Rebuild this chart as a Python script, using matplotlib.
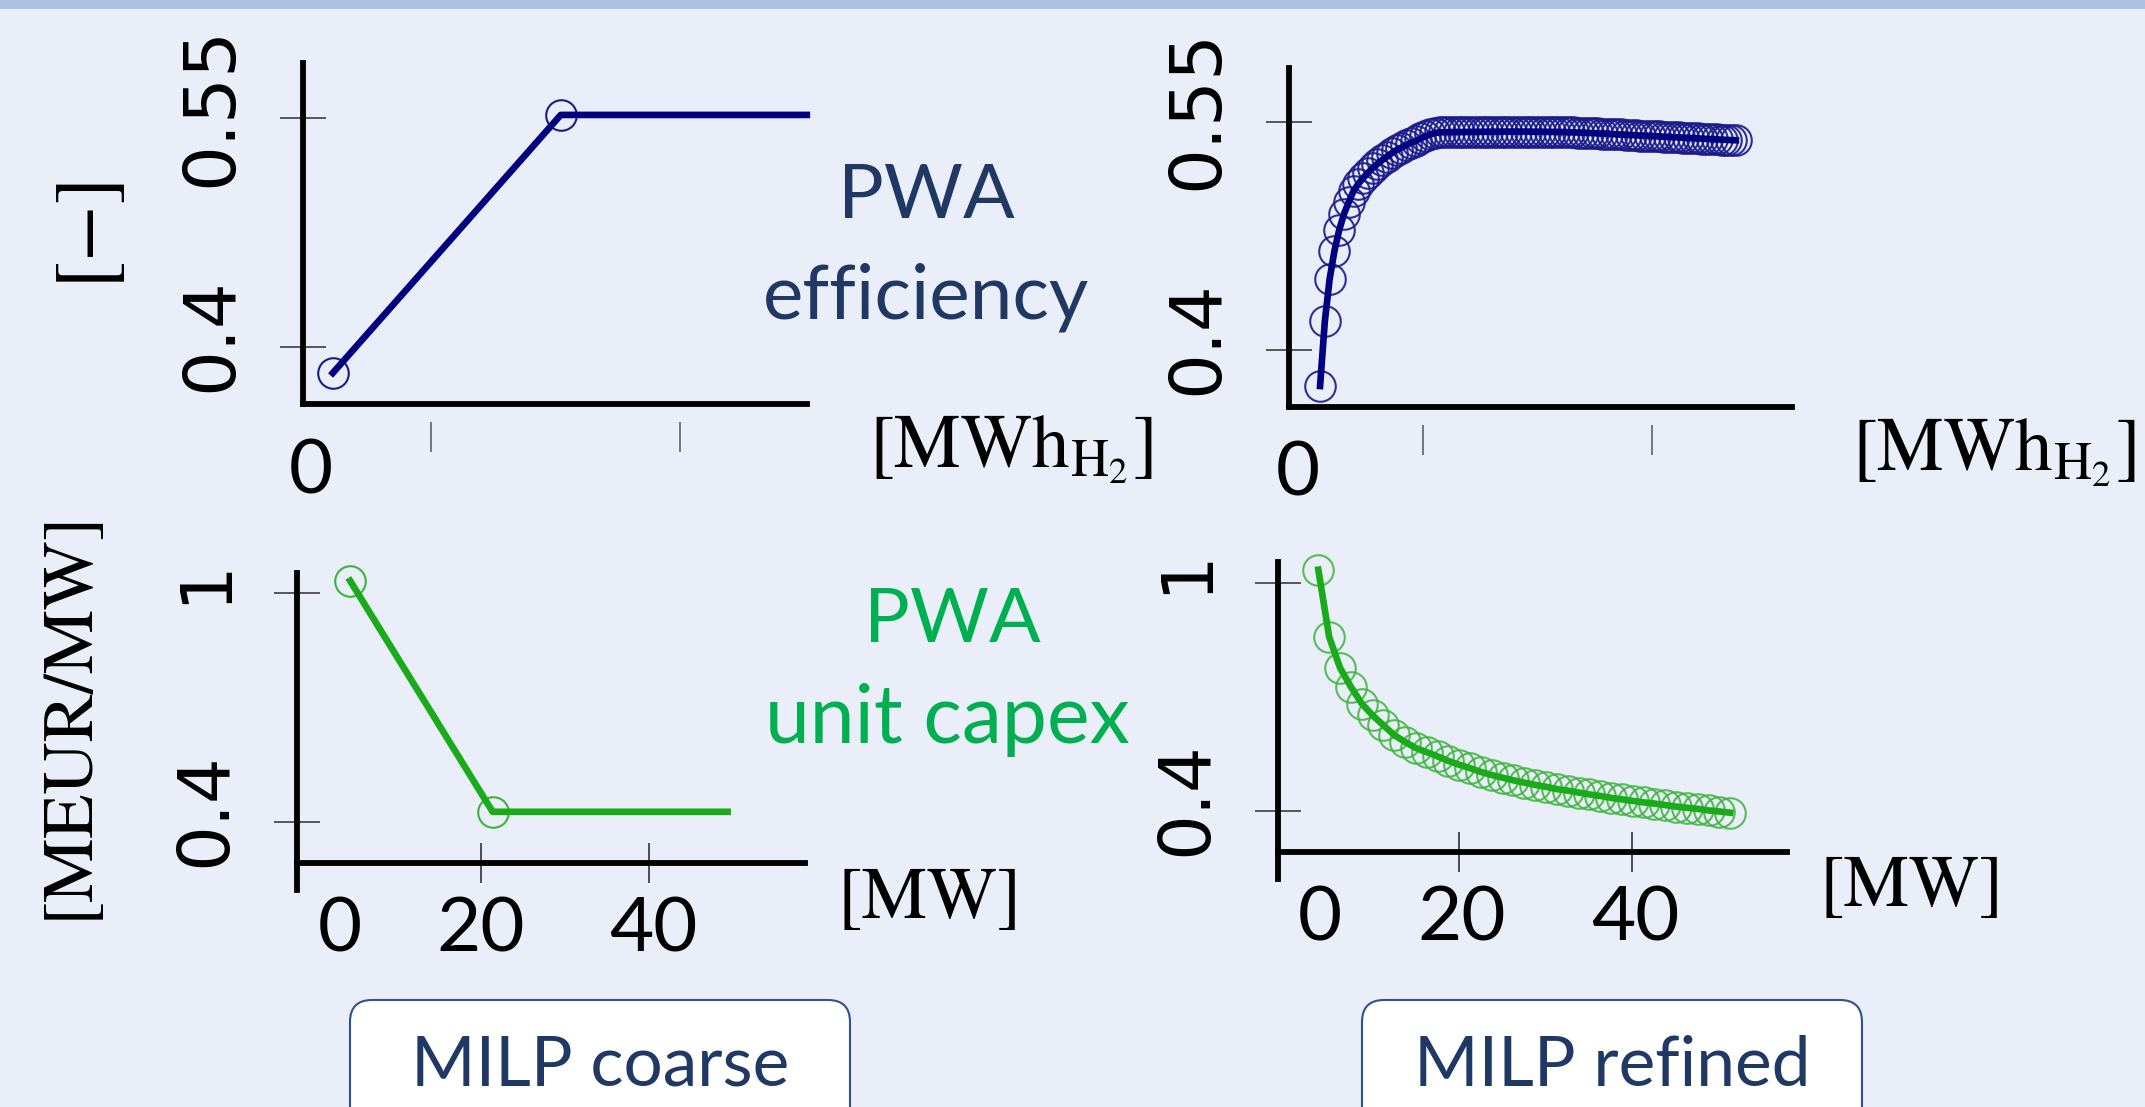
import matplotlib
matplotlib.use("Agg")
import matplotlib.pyplot as plt
from matplotlib.patches import FancyBboxPatch, Rectangle
from matplotlib.transforms import IdentityTransform, offset_copy

W, H = 2145, 1107
BG = '#e9eef8'
NAVY = '#000080'
NAVY_MK = '#1a1a8a'
GREEN = '#1aab1a'
GREEN_MK = '#3cb43c'
TEXT_BLUE = '#203864'
TEXT_GREEN = '#00b050'

# --- data -------------------------------------------------------------
# coarse PWA efficiency, x in MWh_H2 (last point only extends the flat part)
coarse_eff_x = [1.7, 11.8, 22.7]
coarse_eff_y = [0.383, 0.552, 0.552]

# refined PWA efficiency
refined_eff_x = [
    1.45, 1.75, 2.05, 2.35, 2.65, 2.95, 3.25, 3.55, 3.85, 4.15,
    4.45, 4.75, 5.05, 5.35, 5.65, 5.95, 6.25, 6.55, 6.85, 7.15,
    7.45, 7.75, 8.05, 8.35, 8.65, 8.95, 9.25, 9.55, 9.85, 10.15,
    10.45, 10.75, 11.05, 11.35, 11.65, 11.95, 12.25, 12.55, 12.85, 13.15,
    13.45, 13.75, 14.05, 14.35, 14.65, 14.95, 15.25, 15.55, 15.85, 16.15,
    16.45, 16.75, 17.05, 17.35, 17.65, 17.95, 18.25, 18.55, 18.85, 19.15,
    19.45, 19.75, 20.05, 20.35, 20.65, 20.95, 21.25, 21.55, 21.85, 22.15,
    22.45, 22.75, 23.05, 23.35, 23.65, 23.95, 24.25, 24.55, 24.85, 25.15,
    25.45, 25.75, 26.05, 26.35, 26.65, 26.95, 27.25, 27.55,
]
refined_eff_y = [
    0.3763, 0.4190, 0.4466, 0.4650, 0.4788, 0.4893, 0.4972, 0.5045, 0.5091, 0.5130,
    0.5163, 0.5196, 0.5222, 0.5248, 0.5271, 0.5294, 0.5314, 0.5330, 0.5345, 0.5360,
    0.5374, 0.5390, 0.5403, 0.5416, 0.5426, 0.5430, 0.5431, 0.5431, 0.5432, 0.5432,
    0.5432, 0.5433, 0.5433, 0.5433, 0.5434, 0.5434, 0.5434, 0.5434, 0.5435, 0.5435,
    0.5435, 0.5435, 0.5435, 0.5435, 0.5435, 0.5434, 0.5434, 0.5434, 0.5433, 0.5433,
    0.5432, 0.5432, 0.5431, 0.5430, 0.5429, 0.5428, 0.5427, 0.5425, 0.5424, 0.5422,
    0.5421, 0.5419, 0.5417, 0.5416, 0.5414, 0.5413, 0.5411, 0.5409, 0.5408, 0.5406,
    0.5405, 0.5403, 0.5401, 0.5400, 0.5398, 0.5397, 0.5395, 0.5393, 0.5392, 0.5390,
    0.5389, 0.5387, 0.5385, 0.5384, 0.5382, 0.5381, 0.5379, 0.5378,
]

# coarse PWA unit capex, x in MW
coarse_capex_x = [4.47, 21.4, 49.3]
coarse_capex_y = [1.033, 0.426, 0.426]

# refined PWA unit capex
refined_capex_x = [
    3.8, 5.05, 6.3, 7.55, 8.8, 10.05, 11.3, 12.55, 13.8, 15.05,
    16.3, 17.55, 18.8, 20.05, 21.3, 22.55, 23.8, 25.05, 26.3, 27.55,
    28.8, 30.05, 31.3, 32.55, 33.8, 35.05, 36.3, 37.55, 38.8, 40.05,
    41.3, 42.55, 43.8, 45.05, 46.3, 47.55, 48.8, 50.05, 51.3,
]
refined_capex_y = [
    1.034, 0.857, 0.776, 0.726, 0.682, 0.651, 0.625, 0.599, 0.581, 0.565,
    0.554, 0.543, 0.531, 0.521, 0.512, 0.502, 0.494, 0.487, 0.480, 0.474,
    0.468, 0.463, 0.457, 0.453, 0.448, 0.443, 0.439, 0.434, 0.430, 0.426,
    0.422, 0.419, 0.415, 0.411, 0.408, 0.405, 0.401, 0.398, 0.395,
]

eff_yticks = [0.4, 0.55]
eff_yticklabels = ['0.4', '0.55']
capex_yticks = [0.4, 1.0]
capex_yticklabels = ['0.4', '1']
capex_xticks = [20, 40]

# --- figure -----------------------------------------------------------
fig = plt.figure(figsize=(W / 100, H / 100), dpi=100, facecolor=BG)
plt.rcParams['mathtext.fontset'] = 'stix'

fig.add_artist(Rectangle((0, 1 - 9 / H), 1, 9 / H, transform=fig.transFigure,
                         color='#adc0e6', lw=0))


def fx(x):
    return x / W


def fy(y):
    return 1 - y / H


def make_axes(l, r, t, b, xlim, ylim):
    ax = fig.add_axes([fx(l), fy(b), (r - l) / W, (b - t) / H])
    ax.set_xlim(xlim)
    ax.set_ylim(ylim)
    ax.patch.set_visible(False)
    for s in ['top', 'right']:
        ax.spines[s].set_visible(False)
    for s in ['left', 'bottom']:
        ax.spines[s].set_linewidth(4.2)
        ax.spines[s].set_color('black')
    return ax


def y_labels(ax, ticks, labels):
    tr = offset_copy(ax.get_yaxis_transform(), fig=fig, x=-72, y=12, units='dots')
    for t, lab in zip(ticks, labels):
        ax.text(0, t, lab, transform=tr, rotation=90, rotation_mode='anchor',
                ha='center', va='baseline', fontsize=52, family='DejaVu Sans')


def x_labels(ax, positions, labels, axis_y):
    tr = offset_copy(ax.transData, fig=fig, x=0, y=-89, units='dots')
    for p, lab in zip(positions, labels):
        ax.text(p, axis_y, lab, transform=tr, ha='center', va='baseline',
                fontsize=55, family='Lato')


def top_ticks(ax, ticks):
    ax.set_yticks(eff_yticks)
    ax.tick_params(axis='y', direction='inout', length=33, width=1.4,
                   color='#555555', labelleft=False)
    ax.set_xticks([])
    sec = ax.secondary_xaxis(-0.097)
    sec.set_xticks(ticks)
    sec.tick_params(direction='inout', length=21.6, width=1.1,
                    color='#555555', labelbottom=False)
    sec.spines['bottom'].set_visible(False)
    y_labels(ax, eff_yticks, eff_yticklabels)


def bottom_ticks(ax, axis_y):
    ax.spines['bottom'].set_position(('data', axis_y))
    ax.set_yticks(capex_yticks)
    ax.tick_params(axis='y', direction='inout', length=33, width=1.4,
                   color='#555555', labelleft=False)
    ax.set_xticks(capex_xticks)
    ax.tick_params(axis='x', direction='inout', length=29.5, width=1.1,
                   color='#222222', labelbottom=False)
    y_labels(ax, capex_yticks, capex_yticklabels)


mk = dict(marker='o', linestyle='none', markersize=22, markerfacecolor='none',
          markeredgewidth=1.5, clip_on=False)

# top left: coarse efficiency
ax1 = make_axes(303, 807, 63, 404, (0.38, 22.71), (0.3627, 0.586))
top_ticks(ax1, [6.05, 17.08])
ax1.plot(coarse_eff_x, coarse_eff_y, color=NAVY, lw=4.8, clip_on=False, zorder=3)
ax1.plot(coarse_eff_x[:2], coarse_eff_y[:2], markeredgecolor=NAVY_MK, **mk)
x_labels(ax1, [0.74], ['0'], 0.3627)

# top right: refined efficiency
ax2 = make_axes(1289, 1792, 68, 407, (-0.50, 31.07), (0.3625, 0.5853))
top_ticks(ax2, [7.9, 22.3])
ax2.plot(refined_eff_x, refined_eff_y, markeredgecolor=NAVY_MK, alpha=0.9, **mk)
ax2.plot(refined_eff_x, refined_eff_y, color=NAVY, lw=4.8, clip_on=False, zorder=3)
x_labels(ax2, [0.05], ['0'], 0.3625)

# bottom left: coarse unit capex
ax3 = make_axes(297, 805, 573, 890, (-1.83, 58.49), (0.2206, 1.0533))
bottom_ticks(ax3, 0.2923)
ax3.plot(coarse_capex_x, coarse_capex_y, color=GREEN, lw=4.8, clip_on=False, zorder=3)
ax3.plot(coarse_capex_x[:2], coarse_capex_y[:2], markeredgecolor=GREEN_MK, **mk)
x_labels(ax3, [3.3, 20, 40.5], ['0', '20', '40'], 0.2923)

# bottom right: refined unit capex
ax4 = make_axes(1278, 1787, 562, 879, (-0.85, 57.84), (0.2206, 1.0541))
bottom_ticks(ax4, 0.2923)
ax4.plot(refined_capex_x, refined_capex_y, markeredgecolor=GREEN_MK, alpha=0.85, **mk)
ax4.plot(refined_capex_x, refined_capex_y, color=GREEN, lw=4.8, clip_on=False, zorder=3)
x_labels(ax4, [4.0, 20.3, 40.3], ['0', '20', '40'], 0.2923)

# unit labels
unit_kw = dict(ha='center', va='baseline', fontsize=53, family='STIXGeneral', color='black')
fig.text(fx(1011), fy(467), r'$[\mathrm{MWh}_{\mathrm{H}_2}]$', fontsize=54,
         ha='center', va='baseline')
fig.text(fx(1994), fy(470), r'$[\mathrm{MWh}_{\mathrm{H}_2}]$', fontsize=54,
         ha='center', va='baseline')
fig.text(fx(930), fy(918), '[MW]', **unit_kw)
fig.text(fx(1912), fy(906), '[MW]', **unit_kw)
fig.text(fx(86), fy(225), '[\u2212]', rotation=90, ha='center', va='center',
         fontsize=60, family='STIXGeneral')
fig.text(fx(70), fy(714), '[MEUR/MW]', rotation=90, ha='center', va='center',
         fontsize=52, family='STIXGeneral')

# annotations
ann_kw = dict(ha='center', va='baseline', family='Lato')
fig.text(fx(926), fy(218), 'PWA', color=TEXT_BLUE, fontsize=55, **ann_kw)
fig.text(fx(926), fy(318), 'efficiency', color=TEXT_BLUE, fontsize=55, **ann_kw)
fig.text(fx(952), fy(642), 'PWA', color=TEXT_GREEN, fontsize=55, **ann_kw)
fig.text(fx(947), fy(743), 'unit capex', color=TEXT_GREEN, fontsize=58, **ann_kw)

# method boxes
for x0, label in [(350, 'MILP coarse'), (1362, 'MILP refined')]:
    box = FancyBboxPatch((x0, -30), 500, H - 1000 + 30,
                         boxstyle='round,pad=0,rounding_size=22',
                         transform=IdentityTransform(), facecolor='white',
                         edgecolor='#2f528f', linewidth=1.5)
    fig.add_artist(box)
    fig.text(fx(x0 + 250), fy(1086), label, ha='center', va='baseline',
             fontsize=50, family='Lato', color=TEXT_BLUE)

fig.savefig('out.png', dpi=100, facecolor=BG)
